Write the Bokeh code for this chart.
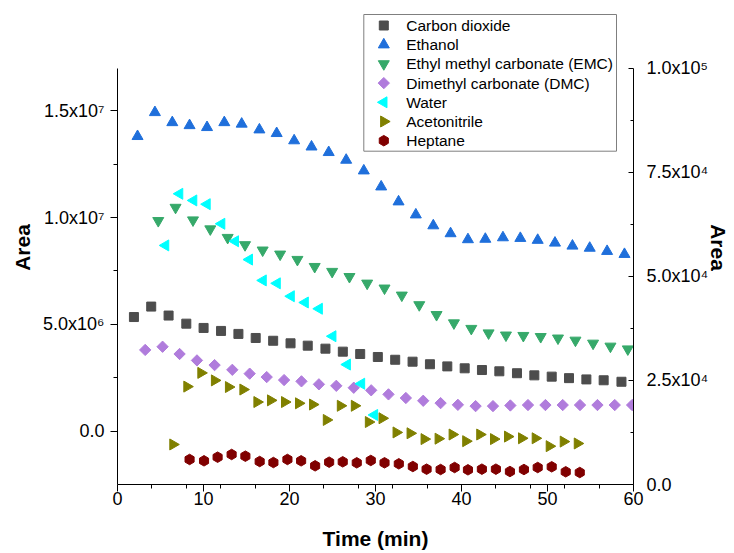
import numpy as np
from bokeh.plotting import figure
from bokeh.models import Range1d, LinearAxis, FixedTicker, CustomJSTickFormatter
from bokeh.core.properties import value
from bokeh.embed import file_html
from bokeh.resources import INLINE

# ---- data: peak areas vs time ----
co2_t = [1.91, 3.92, 5.94, 8.00, 10.01, 12.04, 14.06, 16.07, 18.10, 20.12, 22.12, 24.18, 26.20, 28.22,
         30.27, 32.29, 34.31, 36.33, 38.35, 40.37, 42.38, 44.40, 46.45, 48.47, 50.49, 52.50, 54.52, 56.53, 58.60]
co2_area = [5.34e6, 5.83e6, 5.41e6, 5.03e6, 4.83e6, 4.69e6, 4.55e6, 4.36e6, 4.23e6, 4.11e6, 4.00e6, 3.86e6,
            3.72e6, 3.61e6, 3.47e6, 3.34e6, 3.25e6, 3.13e6, 3.03e6, 2.94e6, 2.86e6, 2.80e6, 2.71e6, 2.61e6,
            2.55e6, 2.48e6, 2.42e6, 2.38e6, 2.31e6]

ethanol_t = [2.33, 4.35, 6.37, 8.38, 10.41, 12.42, 14.44, 16.50, 18.51, 20.54, 22.56, 24.56, 26.59, 28.64,
             30.66, 32.68, 34.69, 36.72, 38.73, 40.75, 42.77, 44.82, 46.84, 48.86, 50.87, 52.90, 54.91, 56.93, 58.95]
ethanol_area = [13.80e6, 14.92e6, 14.45e6, 14.31e6, 14.22e6, 14.45e6, 14.38e6, 14.11e6, 13.94e6, 13.60e6,
                13.31e6, 13.05e6, 12.69e6, 12.19e6, 11.44e6, 10.74e6, 10.13e6, 9.62e6, 9.25e6, 8.97e6,
                8.99e6, 9.06e6, 9.03e6, 8.94e6, 8.81e6, 8.67e6, 8.57e6, 8.42e6, 8.28e6]

emc_t = [4.74, 6.75, 8.78, 10.79, 12.81, 14.83, 16.88, 18.91, 20.92, 22.93, 24.96, 26.97, 29.03, 31.05,
         33.06, 35.09, 37.10, 39.12, 41.14, 43.15, 45.17, 47.19, 49.21, 51.22, 53.25, 55.30, 57.32, 59.34]
emc_area = [9.85e6, 10.47e6, 9.88e6, 9.46e6, 9.06e6, 8.72e6, 8.47e6, 8.28e6, 8.03e6, 7.70e6, 7.47e6, 7.23e6,
            6.92e6, 6.69e6, 6.36e6, 5.91e6, 5.45e6, 5.06e6, 4.80e6, 4.59e6, 4.49e6, 4.47e6, 4.42e6, 4.35e6,
            4.25e6, 4.11e6, 3.97e6, 3.84e6]

dmc_t = [3.22, 5.24, 7.22, 9.24, 11.29, 13.35, 15.37, 17.35, 19.37, 21.39, 23.42, 25.44, 27.47, 29.50,
         31.51, 33.53, 35.55, 37.57, 39.58, 41.64, 43.66, 45.68, 47.73, 49.76, 51.77, 53.78, 55.81, 57.82, 59.84]
dmc_area = [3.80e6, 3.95e6, 3.61e6, 3.31e6, 3.09e6, 2.87e6, 2.69e6, 2.53e6, 2.39e6, 2.33e6, 2.19e6, 2.12e6,
            2.03e6, 1.91e6, 1.72e6, 1.55e6, 1.42e6, 1.31e6, 1.23e6, 1.17e6, 1.17e6, 1.20e6, 1.22e6, 1.22e6,
            1.22e6, 1.22e6, 1.22e6, 1.22e6, 1.22e6]

# minor components (right axis)
water_t = [5.59, 7.22, 8.85, 10.41, 12.11, 13.70, 15.33, 16.93, 18.56, 20.19, 21.82, 23.45, 25.03, 26.71,
           28.37, 29.88]
water_area = [57.4e3, 69.8e3, 68.2e3, 67.3e3, 62.6e3, 58.4e3, 54.0e3, 49.0e3, 48.3e3, 45.2e3, 43.7e3,
              42.2e3, 35.6e3, 28.8e3, 24.2e3, 16.7e3]

acn_t = [6.45, 8.08, 9.71, 11.29, 12.92, 14.60, 16.23, 17.81, 19.44, 21.07, 22.70, 24.30, 25.93, 27.56,
         29.19, 30.78, 32.41, 34.04, 35.67, 37.30, 38.93, 40.51, 42.14, 43.74, 45.37, 47.00, 48.59, 50.22,
         51.85, 53.48]
acn_area = [9.61e3, 23.5e3, 26.8e3, 25.0e3, 23.4e3, 22.8e3, 19.8e3, 20.2e3, 19.8e3, 19.5e3, 19.2e3, 15.5e3,
            18.9e3, 18.9e3, 15.0e3, 15.9e3, 12.5e3, 12.3e3, 10.9e3, 11.0e3, 12.0e3, 10.4e3, 12.0e3, 10.9e3,
            11.5e3, 11.1e3, 11.1e3, 9.2e3, 10.3e3, 9.85e3]

heptane_t = [8.38, 10.06, 11.64, 13.27, 14.87, 16.53, 18.13, 19.76, 21.35, 22.98, 24.61, 26.19, 27.82,
             29.45, 31.05, 32.71, 34.34, 35.94, 37.57, 39.20, 40.75, 42.37, 44.00, 45.63, 47.26, 48.86,
             50.49, 52.12, 53.75]
heptane_area = [6.01e3, 5.69e3, 6.56e3, 7.21e3, 6.80e3, 5.52e3, 5.28e3, 6.01e3, 5.69e3, 4.49e3, 5.36e3,
                5.45e3, 5.21e3, 5.77e3, 5.21e3, 4.97e3, 4.32e3, 3.68e3, 3.60e3, 4.08e3, 3.53e3, 3.68e3,
                3.68e3, 3.12e3, 3.60e3, 4.08e3, 4.25e3, 3.05e3, 2.88e3]

labels = ["Carbon dioxide", "Ethanol", "Ethyl methyl carbonate (EMC)", "Dimethyl carbonate (DMC)",
          "Water", "Acetonitrile", "Heptane"]

x_ticks = [0, 10, 20, 30, 40, 50, 60]
x_minor = [4, 8, 12, 16, 24, 28, 32, 36, 44, 48, 52, 56]
left_ticks = [0, 5e6, 1e7, 1.5e7]
left_minor = [2.5e6, 7.5e6, 1.25e7]
left_bounds = (-2.5e6, 1.7e7)
right_ticks = [0, 2.5e4, 5e4, 7.5e4, 1e5]
right_minor = [1.25e4, 3.75e4, 6.25e4, 8.75e4]
right_bounds = (0, 1e5)

FONT = "Liberation Sans"

# ---- canvas geometry (pixels) ----
W, H = 734, 553
B_LEFT, B_RIGHT, B_TOP, B_BOTTOM = 117, 101, 10, 69
AXIS_TOP = 57.5                      # axes start this far below the frame top (room for the legend)
frame_w = W - B_LEFT - B_RIGHT
frame_h = H - B_TOP - B_BOTTOM
axis_h = frame_h - AXIS_TOP

def extended_top(lo, hi):
    return lo + (hi - lo) * frame_h / axis_h

p = figure(width=W, height=H, output_backend="svg", toolbar_location=None, title=None,
           x_range=Range1d(0, 60),
           y_range=Range1d(left_bounds[0], extended_top(*left_bounds)),
           min_border_left=B_LEFT, min_border_right=B_RIGHT,
           min_border_top=B_TOP, min_border_bottom=B_BOTTOM)
p.outline_line_color = None
p.xgrid.visible = False
p.ygrid.visible = False
p.extra_y_ranges = {"right": Range1d(right_bounds[0], extended_top(*right_bounds)),
                    "py": Range1d(frame_h, 0)}
p.extra_x_ranges = {"px": Range1d(0, frame_w)}

sci = CustomJSTickFormatter(code="""
const sup = {"0":"⁰","1":"¹","2":"²","3":"³","4":"⁴","5":"⁵","6":"⁶","7":"⁷","8":"⁸","9":"⁹","-":"⁻"};
if (Math.abs(tick) < 1e-9) return "0.0";
const e = Math.floor(Math.log10(Math.abs(tick)) + 1e-9);
const m = tick / Math.pow(10, e);
return m.toFixed(1) + "x10" + String(e).split("").map(c => sup[c]).join("");
""")

def style_axis(ax):
    ax.axis_line_color = "black"
    ax.major_tick_line_color = "black"
    ax.minor_tick_line_color = "black"
    ax.major_label_text_font = FONT
    ax.major_label_text_font_size = "18px"
    ax.major_label_text_color = "black"
    ax.axis_label_text_font = FONT
    ax.axis_label_text_font_size = "21px"
    ax.axis_label_text_font_style = "bold"
    ax.axis_label_text_color = "black"

xa = p.xaxis[0]
style_axis(xa)
xa.ticker = FixedTicker(ticks=x_ticks, minor_ticks=x_minor)
xa.axis_label = "Time (min)"
xa.major_tick_in = 0
xa.major_tick_out = 7
xa.minor_tick_in = 0
xa.minor_tick_out = 4
xa.major_label_standoff = 0
xa.axis_label_standoff = 19

ya = p.yaxis[0]
style_axis(ya)
ya.ticker = FixedTicker(ticks=left_ticks, minor_ticks=left_minor)
ya.formatter = sci
ya.bounds = left_bounds
ya.axis_label = "Area"
ya.major_tick_in = 0
ya.major_tick_out = 7
ya.minor_tick_in = 0
ya.minor_tick_out = 4
ya.major_label_standoff = 6
ya.axis_label_standoff = 6

yr = LinearAxis(y_range_name="right",
                ticker=FixedTicker(ticks=right_ticks, minor_ticks=right_minor),
                formatter=sci, axis_label="Area", bounds=right_bounds)
style_axis(yr)
yr.major_tick_in = 5
yr.major_tick_out = 0
yr.minor_tick_in = 3
yr.minor_tick_out = 0
yr.major_label_standoff = 13
yr.axis_label_standoff = -4
p.add_layout(yr, "right")

# marker style for each compound (same in plot and legend)
styles = [
    dict(marker="square", size=9, angle=0.0, color="#4D4D4D"),
    dict(marker="triangle", size=11, angle=0.0, color="#1F6FDB"),
    dict(marker="inverted_triangle", size=11, angle=0.0, color="#36A96A"),
    dict(marker="square", size=8, angle=np.pi / 4, color="#B07CDC"),
    dict(marker="triangle", size=11, angle=np.pi / 2, color="#00FFFF"),
    dict(marker="triangle", size=11, angle=-np.pi / 2, color="#808000"),
    dict(marker="hex", size=10.5, angle=np.pi / 6, color="#800000"),
]
series = [
    (co2_t, co2_area, "default"),
    (ethanol_t, ethanol_area, "default"),
    (emc_t, emc_area, "default"),
    (dmc_t, dmc_area, "default"),
    (water_t, water_area, "right"),
    (acn_t, acn_area, "right"),
    (heptane_t, heptane_area, "right"),
]
for (t, a, rng), st in zip(series, styles):
    p.scatter(t, a, y_range_name=rng, **st)

# ---- legend box (frame pixel coordinates) ----
LEG_L, LEG_R, LEG_T, LEG_B = 246.3, 499.0, 4.0, 140.7
ROW0, ROW_DY = 15.0, 19.2
MARK_X, TEXT_X = 266.3, 288.7

p.quad(left=[LEG_L], right=[LEG_R], top=[LEG_T], bottom=[LEG_B],
       x_range_name="px", y_range_name="py",
       fill_color="white", line_color="#7F7F7F", line_width=1)
rows_y = [ROW0 + i * ROW_DY for i in range(len(labels))]
for y, st in zip(rows_y, styles):
    p.scatter([MARK_X], [y], x_range_name="px", y_range_name="py", **st)
p.text(x=[TEXT_X] * len(labels), y=rows_y, text=labels,
       x_range_name="px", y_range_name="py",
       text_font=value(FONT), text_font_size="15.5px", text_color="black",
       text_baseline="middle", text_align="left")

open("out.html", "w").write(file_html(p, INLINE))
